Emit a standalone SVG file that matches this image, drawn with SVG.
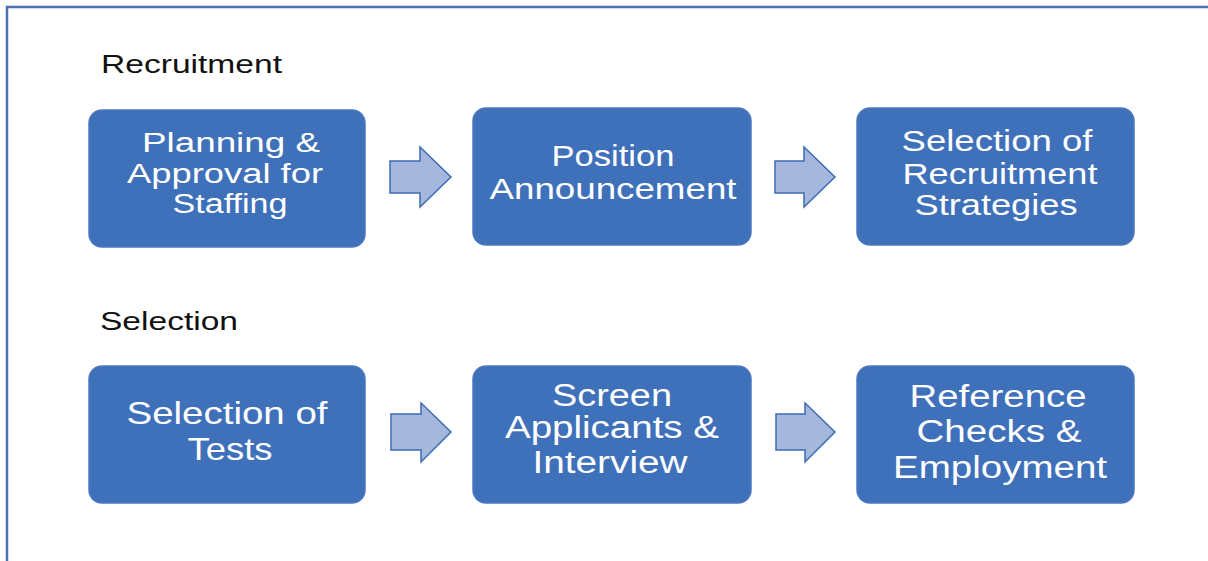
<svg xmlns="http://www.w3.org/2000/svg" width="1208" height="561" viewBox="0 0 1208 561">
<style>
.box{fill:#3f70ba;stroke:#4a78c0;stroke-width:1.5}
.t{fill:#ffffff;font-family:"Liberation Sans",Arial,sans-serif;text-anchor:middle}
.lbl{fill:#111111;font-family:"Liberation Sans",Arial,sans-serif}
.arr{fill:#a5b7dc;stroke:#3e6bb4;stroke-width:1.5;stroke-linejoin:miter}
</style>
<rect width="1208" height="561" fill="#ffffff"/>
<path d="M7,561 V7 H1208" fill="none" stroke="#4a6fae" stroke-width="2.5"/>
<text class="lbl" x="101" y="73" font-size="26" textLength="181" lengthAdjust="spacingAndGlyphs">Recruitment</text>
<text class="lbl" x="100" y="330" font-size="26" textLength="138" lengthAdjust="spacingAndGlyphs">Selection</text>

<g id="n1">
<rect class="box" x="89" y="110" width="276" height="137" rx="13"/>
<text class="t" x="231" y="152" font-size="27" textLength="178" lengthAdjust="spacingAndGlyphs">Planning &amp;</text>
<text class="t" x="225" y="183" font-size="27" textLength="196" lengthAdjust="spacingAndGlyphs">Approval for</text>
<text class="t" x="230" y="213" font-size="27" textLength="115" lengthAdjust="spacingAndGlyphs">Staffing</text>
</g>
<g id="n2">
<rect class="box" x="473" y="108" width="278" height="137" rx="13"/>
<text class="t" x="613" y="166" font-size="30" textLength="123" lengthAdjust="spacingAndGlyphs">Position</text>
<text class="t" x="613" y="199" font-size="30" textLength="247" lengthAdjust="spacingAndGlyphs">Announcement</text>
</g>
<g id="n3">
<rect class="box" x="857" y="108" width="277" height="137" rx="13"/>
<text class="t" x="997" y="151" font-size="30" textLength="191" lengthAdjust="spacingAndGlyphs">Selection of</text>
<text class="t" x="1000" y="184" font-size="30" textLength="195" lengthAdjust="spacingAndGlyphs">Recruitment</text>
<text class="t" x="996" y="215" font-size="30" textLength="163" lengthAdjust="spacingAndGlyphs">Strategies</text>
</g>
<g id="n4">
<rect class="box" x="89" y="366" width="276" height="137" rx="13"/>
<text class="t" x="227" y="424" font-size="32" textLength="201" lengthAdjust="spacingAndGlyphs">Selection of</text>
<text class="t" x="230" y="460" font-size="32" textLength="85" lengthAdjust="spacingAndGlyphs">Tests</text>
</g>
<g id="n5">
<rect class="box" x="473" y="366" width="278" height="137" rx="13"/>
<text class="t" x="612" y="406" font-size="31" textLength="120" lengthAdjust="spacingAndGlyphs">Screen</text>
<text class="t" x="612" y="438" font-size="31" textLength="214" lengthAdjust="spacingAndGlyphs">Applicants &amp;</text>
<text class="t" x="610" y="473" font-size="31" textLength="155" lengthAdjust="spacingAndGlyphs">Interview</text>
</g>
<g id="n6">
<rect class="box" x="857" y="366" width="277" height="137" rx="13"/>
<text class="t" x="998" y="407" font-size="31" textLength="177" lengthAdjust="spacingAndGlyphs">Reference</text>
<text class="t" x="999" y="442" font-size="31" textLength="165" lengthAdjust="spacingAndGlyphs">Checks &amp;</text>
<text class="t" x="1000" y="478" font-size="31" textLength="214" lengthAdjust="spacingAndGlyphs">Employment</text>
</g>

<g id="connectors">
<path class="arr" d="M390,161 H420 V147 L451,177 L420,207 V193 H390 Z"/>
<path class="arr" d="M775,161 H804 V147 L835,177 L804,207 V193 H775 Z"/>
<path class="arr" d="M391,414 H421 V403 L451,432 L421,462 V450 H391 Z"/>
<path class="arr" d="M776,414 H805 V403 L835,432 L805,462 V450 H776 Z"/>
</g>
</svg>
